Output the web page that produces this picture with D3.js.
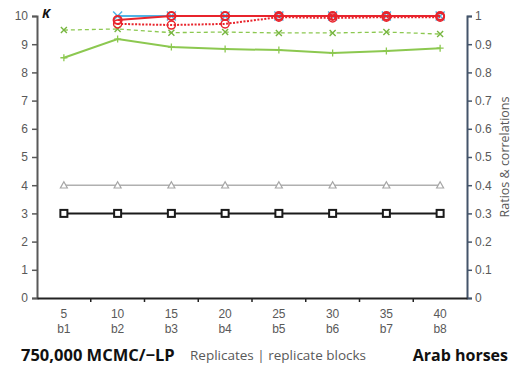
<!DOCTYPE html>
<html lang="en">
  <head>
    <meta charset="UTF-8" />
    <title>K and ratios by replicates</title>
    <style>
      body {
        margin: 0;
        background: #fff;
        font-family: "Open Sans", "Noto Sans", sans-serif;
      }
      .tick text {
        font-size: 12px;
        fill: #595959;
      }
    </style>
  </head>
  <body>
    <svg width="517" height="373"></svg>
  </body>
  <script src="https://cdn.jsdelivr.net/npm/d3@7"></script>
  <script>
    const replicates = ["5", "10", "15", "20", "25", "30", "35", "40"];
    const blocks = ["b1", "b2", "b3", "b4", "b5", "b6", "b7", "b8"];

    // left axis (K)
    const kValues = [3, 3, 3, 3, 3, 3, 3, 3];
    const grayValues = [4, 4, 4, 4, 4, 4, 4, 4];
    // right axis (ratios & correlations)
    const greenSolid = [0.852, 0.918, 0.89, 0.883, 0.879, 0.869, 0.876, 0.886];
    const greenDashed = [0.95, 0.954, 0.941, 0.943, 0.94, 0.94, 0.943, 0.936];
    const blueX = [null, 1, 1, 1, 1, 1, 1, 1];
    const redSolid = [null, 0.986, 1, 1, 1, 1, 1, 1];
    const redDotted = [null, 0.972, 0.968, 0.972, 0.996, 0.993, 0.996, 0.996];

    const svg = d3.select("svg");
    const pLeft = 37, pRight = 467, pTop = 16, pBottom = 298;

    const x = d3.scaleBand().domain(replicates).range([pLeft, pRight]);
    const yK = d3.scaleLinear().domain([0, 10]).range([pBottom, pTop]);
    const yR = d3.scaleLinear().domain([0, 1]).range([pBottom, pTop]);
    const cx = (i) => x(replicates[i]) + x.bandwidth() / 2;

    // left axis
    const gl = svg.append("g").attr("transform", `translate(${pLeft},0)`)
      .call(d3.axisLeft(yK).ticks(10).tickSize(5).tickPadding(4));
    gl.select(".domain").attr("stroke", "#595959").attr("stroke-width", 2);
    gl.selectAll(".tick line").attr("stroke", "#595959").attr("stroke-width", 1.5);

    // right axis
    const gr = svg.append("g").attr("transform", `translate(${pRight},0)`)
      .call(d3.axisRight(yR).ticks(10).tickSize(5).tickPadding(3)
        .tickFormat((d) => (d === 0 || d === 1 ? d3.format("d")(d) : d3.format(".1f")(d))));
    gr.select(".domain").attr("stroke", "#44546a").attr("stroke-width", 2);
    gr.selectAll(".tick line").attr("stroke", "#44546a").attr("stroke-width", 1.5);

    // bottom axis
    const gb = svg.append("g").attr("transform", `translate(0,${pBottom})`)
      .call(d3.axisBottom(x).tickSize(0).tickFormat(""));
    gb.select(".domain").attr("stroke", "#222").attr("stroke-width", 2);
    gb.selectAll(".bt").data(d3.range(1, replicates.length)).join("line")
      .attr("x1", (i) => x(replicates[i])).attr("x2", (i) => x(replicates[i]))
      .attr("y1", 0).attr("y2", 4).attr("stroke", "#222").attr("stroke-width", 1.5);
    gb.selectAll(".lab1").data(replicates).join("text")
      .attr("x", (d) => x(d) + x.bandwidth() / 2).attr("y", 20)
      .attr("text-anchor", "middle").attr("font-size", 12).attr("fill", "#595959")
      .text((d) => d);
    gb.selectAll(".lab2").data(blocks).join("text")
      .attr("x", (d, i) => cx(i)).attr("y", 35)
      .attr("text-anchor", "middle").attr("font-size", 12).attr("fill", "#595959")
      .text((d) => d);

    function series(values, y, color, width, dash) {
      const pts = values.map((v, i) => ({ i, v })).filter((p) => p.v != null);
      svg.append("path").datum(pts)
        .attr("fill", "none").attr("stroke", color).attr("stroke-width", width)
        .attr("stroke-dasharray", dash || null)
        .attr("d", d3.line().x((p) => cx(p.i)).y((p) => y(p.v)));
      return pts;
    }

    function markers(pts, y, shape, color, size, fill, sw) {
      const g = svg.append("g");
      pts.forEach((p) => {
        const px = cx(p.i), py = y(p.v);
        if (shape === "square") {
          g.append("rect").attr("x", px - size).attr("y", py - size)
            .attr("width", size * 2).attr("height", size * 2)
            .attr("fill", fill).attr("stroke", color).attr("stroke-width", sw);
        } else if (shape === "triangle") {
          g.append("path").attr("d", `M${px},${py - size}L${px + size},${py + size * 0.8}L${px - size},${py + size * 0.8}Z`)
            .attr("fill", "#fff").attr("stroke", color).attr("stroke-width", sw);
        } else if (shape === "plus") {
          g.append("path").attr("d", `M${px - size},${py}H${px + size}M${px},${py - size}V${py + size}`)
            .attr("stroke", color).attr("stroke-width", sw);
        } else if (shape === "x") {
          g.append("path").attr("d", `M${px - size},${py - size}L${px + size},${py + size}M${px - size},${py + size}L${px + size},${py - size}`)
            .attr("stroke", color).attr("stroke-width", sw);
        } else if (shape === "circle") {
          g.append("circle").attr("cx", px).attr("cy", py).attr("r", size)
            .attr("fill", fill).attr("stroke", color).attr("stroke-width", sw);
        }
      });
    }

    const grayPts = series(grayValues, yK, "#b0b0b0", 1.5);
    markers(grayPts, yK, "triangle", "#a6a6a6", 3.5, "#fff", 1.2);

    const kPts = series(kValues, yK, "#1a1a1a", 2);
    markers(kPts, yK, "square", "#1a1a1a", 3.5, "#fff", 2);

    const gsPts = series(greenSolid, yR, "#8cc850", 2);
    markers(gsPts, yR, "plus", "#8cc850", 3.5, "none", 1.3);

    const gdPts = series(greenDashed, yR, "#8cc850", 1.3, "4,3");
    markers(gdPts, yR, "x", "#77b640", 3, "none", 1.4);

    const bPts = series(blueX, yR, "#4fb4e6", 2);
    markers(bPts, yR, "x", "#4fb4e6", 4.5, "none", 1.5);

    const rdPts = series(redDotted, yR, "#e8242c", 2, "2,1.5");
    markers(rdPts, yR, "circle", "#e8242c", 4, "none", 1.5);

    const rsPts = series(redSolid, yR, "#e8242c", 2);
    markers(rsPts, yR, "circle", "#e8242c", 4, "none", 2);

    // annotations
    svg.append("text").attr("x", 42).attr("y", 18)
      .attr("font-size", 13).attr("font-weight", "bold").attr("font-style", "italic")
      .attr("fill", "#111").text("K");

    svg.append("text")
      .attr("transform", `translate(509,${(pTop + pBottom) / 2}) rotate(-90)`)
      .attr("text-anchor", "middle").attr("font-size", 12.5).attr("fill", "#595959")
      .text("Ratios & correlations");

    svg.append("text").attr("x", 21).attr("y", 361)
      .attr("font-size", 16.5).attr("font-weight", "bold").attr("fill", "#111")
      .text("750,000 MCMC/\u2212LP");
    svg.append("text").attr("x", 190).attr("y", 360)
      .attr("font-size", 13.5).attr("fill", "#595959")
      .text("Replicates | replicate blocks");
    svg.append("text").attr("x", 508).attr("y", 361).attr("text-anchor", "end")
      .attr("font-size", 16).attr("font-weight", "bold").attr("fill", "#111")
      .text("Arab horses");
  </script>
</html>
